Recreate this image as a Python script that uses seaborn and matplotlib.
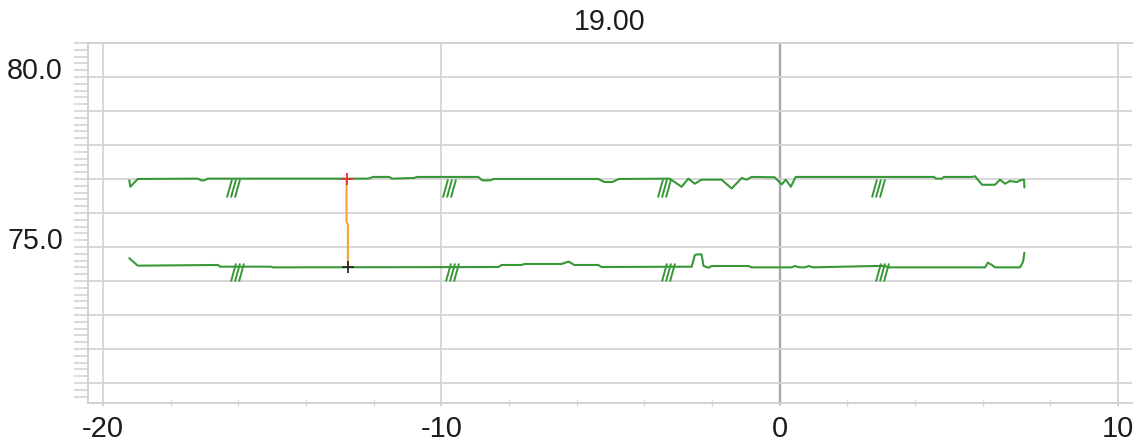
import numpy as np
import pandas as pd
import matplotlib
matplotlib.use("Agg")
import matplotlib.pyplot as plt
from matplotlib.path import Path
from matplotlib.transforms import ScaledTranslation
from matplotlib.ticker import MultipleLocator
import seaborn as sns

# ---- data -------------------------------------------------------------
title_text = "19.00"

upper_x = [-19.22, -19.19, -18.97, -17.19, -17.10, -17.01, -16.89, -12.16, -12.01,
           -11.54, -11.45, -10.80, -10.71, -8.91, -8.79, -8.55, -8.46, -5.36, -5.18,
           -4.94, -4.76, -3.25, -2.90, -2.70, -2.51, -2.31, -1.72, -1.42, -1.12, -0.98,
           -0.83, -0.15, 0.06, 0.18, 0.33, 0.47, 4.56, 4.62, 4.79, 4.85, 5.68, 5.77,
           5.98, 6.36, 6.51, 6.66, 6.80, 7.01, 7.13, 7.22, 7.23]
upper_y = [76.96, 76.77, 77.00, 77.01, 76.96, 76.96, 77.01, 77.01, 77.06, 77.06,
           77.01, 77.03, 77.06, 77.06, 76.96, 76.96, 77.00, 77.00, 76.91, 76.91,
           77.00, 77.01, 76.77, 77.01, 76.86, 76.98, 76.98, 76.72, 77.03, 76.98,
           77.06, 77.05, 76.84, 76.98, 76.77, 77.06, 77.06, 77.01, 77.01, 77.06,
           77.06, 77.08, 76.83, 76.83, 76.98, 76.86, 76.94, 76.91, 76.97, 76.98, 76.75]

lower_x = [-19.22, -18.97, -16.60, -16.54, -15.03, -14.97, -8.31, -8.22, -7.63, -7.54,
           -6.45, -6.24, -6.07, -5.36, -5.27, -2.60, -2.51, -2.46, -2.31, -2.25, -2.10,
           -2.01, -0.92, -0.83, 0.36, 0.44, 0.59, 0.74, 0.86, 0.98, 2.81, 3.11, 3.20,
           6.07, 6.15, 6.27, 6.36, 7.10, 7.19, 7.23]
lower_y = [74.67, 74.45, 74.47, 74.42, 74.42, 74.40, 74.41, 74.47, 74.47, 74.50,
           74.50, 74.57, 74.47, 74.47, 74.41, 74.42, 74.76, 74.78, 74.78, 74.44,
           74.39, 74.44, 74.44, 74.40, 74.40, 74.44, 74.40, 74.40, 74.44, 74.40,
           74.44, 74.44, 74.40, 74.40, 74.54, 74.47, 74.40, 74.40, 74.56, 74.83]

# axis-break symbols on each trace
break_upper_x = [-16.15, -9.76, -3.43, 2.90]
break_upper_y = [76.72, 76.72, 76.72, 76.72]
break_lower_x = [-16.03, -9.67, -3.31, 3.02]
break_lower_y = [74.26, 74.26, 74.26, 74.26]

# measurement cursor between the two traces
cursor_x = [-12.80, -12.80, -12.76, -12.76]
cursor_y = [77.01, 75.74, 75.65, 74.40]
cursor_top = (-12.80, 77.01)
cursor_bottom = (-12.76, 74.40)

x_ticks = [-20, -10, 0, 10]
x_tick_labels = ["-20", "-10", "0", "10"]
y_ticks = [71, 72, 73, 74, 75, 76, 77, 78, 79, 80, 81]
y_tick_labels = ["", "", "", "", "75.0", "", "", "", "", "80.0", ""]

x_limits = (-20.44, 10.41)
y_limits = (70.41, 81.0)

# ---- style ------------------------------------------------------------
sns.set_theme(style="white")
plt.rcParams["font.family"] = ["Liberation Sans", "DejaVu Sans"]
plt.rcParams["axes.unicode_minus"] = False

green = "#389838"
grid_col = "#d4d4d4"
text_col = "#1c1c1c"

fig = plt.figure(figsize=(11.44, 4.41), dpi=100)
ax = fig.add_axes([88 / 1144, 38 / 441, (1132 - 88) / 1144, (403 - 43) / 441])
ax.set_axisbelow(True)

df_upper = pd.DataFrame({"x": upper_x, "y": upper_y})
df_lower = pd.DataFrame({"x": lower_x, "y": lower_y})
sns.lineplot(data=df_upper, x="x", y="y", sort=False, estimator=None,
             color=green, lw=1.5, ax=ax)
sns.lineplot(data=df_lower, x="x", y="y", sort=False, estimator=None,
             color=green, lw=1.5, ax=ax)

# "///" break glyph as a marker path
verts, codes = [], []
for i in range(3):
    verts += [(-6.5 + 4 * i, -9), (-1.5 + 4 * i, 9)]
    codes += [Path.MOVETO, Path.LINETO]
hatch = Path(verts, codes)
for bx, by in ((break_upper_x, break_upper_y), (break_lower_x, break_lower_y)):
    ax.plot(bx, by, linestyle="none", marker=hatch, ms=13,
            mec=green, mfc="none", mew=1.4)

# cursor
df_cursor = pd.DataFrame({"x": cursor_x, "y": cursor_y})
sns.lineplot(data=df_cursor, x="x", y="y", sort=False, estimator=None,
             color="#f5a23c", lw=1.5, ax=ax)
ax.plot([cursor_top[0]], [cursor_top[1]], marker="+", ms=9, mew=1.3,
        color="#e8303a", linestyle="none")
ax.plot([cursor_bottom[0]], [cursor_bottom[1]], marker="+", ms=9, mew=1.3,
        color="#2a2a2a", linestyle="none")

# ---- axes -------------------------------------------------------------
ax.set_xlim(*x_limits)
ax.set_ylim(*y_limits)
ax.set_xlabel("")
ax.set_ylabel("")

ax.set_xticks(x_ticks)
ax.set_xticklabels(x_tick_labels)
ax.set_yticks(y_ticks)
ax.set_yticklabels(y_tick_labels)
ax.xaxis.set_minor_locator(MultipleLocator(2))
ax.yaxis.set_minor_locator(MultipleLocator(0.2))

ax.grid(True, which="major", color=grid_col, lw=1.3)
for tick_val, gl in zip(ax.get_xticks(), ax.get_xgridlines()):
    if tick_val == 0:
        gl.set_color("#a9a9a9")
        gl.set_linewidth(1.7)

ax.tick_params(axis="y", which="both", left=True, direction="out", length=10,
               width=1.1, color="#d0d0d0", pad=8, labelsize=20.6,
               labelcolor=text_col)
ax.tick_params(axis="x", which="major", bottom=True, direction="out", length=2.5,
               width=1.2, color="#c8c8c8", pad=6, labelsize=21, labelcolor=text_col)
ax.tick_params(axis="x", which="minor", bottom=True, direction="inout", length=4,
               width=1.0, color="#d8d8d8")

# y labels sit a little above their grid line
for lab in ax.get_yticklabels():
    lab.set_transform(lab.get_transform() +
                      ScaledTranslation(0, 0.09, fig.dpi_scale_trans))

for side in ("left", "bottom", "top"):
    ax.spines[side].set_color("#cfcfcf")
    ax.spines[side].set_linewidth(1.3)
ax.spines["right"].set_visible(False)

ax.set_title(title_text, fontsize=20.6, pad=9, color=text_col)

fig.savefig("out.png", dpi=100)
